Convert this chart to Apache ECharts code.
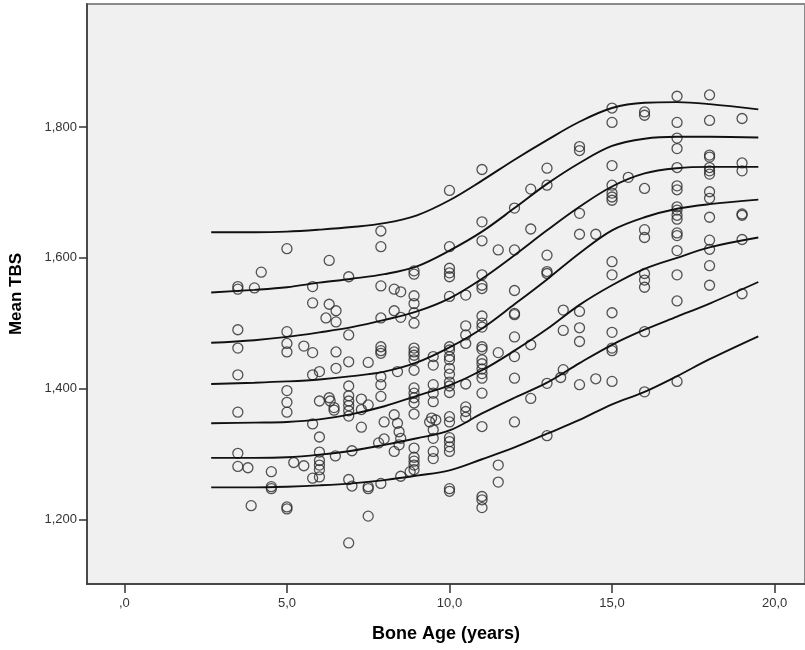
<!DOCTYPE html>
<html>
<head>
<meta charset="utf-8">
<title>Mean TBS by Bone Age</title>
<script src="https://cdn.jsdelivr.net/npm/echarts@6/dist/echarts.min.js"></script>
<style>
  html, body { margin: 0; padding: 0; background: #ffffff; }
  #chart { width: 805px; height: 650px; }
</style>
</head>
<body>
<div id="chart"></div>
<script>
// Ages (years) where the reference curves are sampled
const curveAges = [2.67, 4, 5, 6, 7, 8, 9, 10, 11, 12, 13, 14, 15, 16, 17, 18, 19.5];

// Reference curves, top to bottom
const curve1 = [1.639, 1.639, 1.640, 1.643, 1.647, 1.653, 1.665, 1.688, 1.718, 1.750, 1.780, 1.808, 1.829, 1.837, 1.838, 1.835, 1.827];
const curve2 = [1.547, 1.551, 1.555, 1.562, 1.568, 1.575, 1.587, 1.611, 1.640, 1.676, 1.713, 1.745, 1.771, 1.782, 1.785, 1.785, 1.784];
const curve3 = [1.470, 1.474, 1.479, 1.486, 1.494, 1.505, 1.518, 1.538, 1.568, 1.604, 1.642, 1.678, 1.709, 1.729, 1.737, 1.739, 1.739];
const curve4 = [1.407, 1.409, 1.411, 1.414, 1.419, 1.426, 1.440, 1.463, 1.492, 1.529, 1.567, 1.607, 1.642, 1.662, 1.675, 1.682, 1.689];
const curve5 = [1.347, 1.348, 1.349, 1.353, 1.361, 1.373, 1.389, 1.405, 1.428, 1.458, 1.491, 1.528, 1.558, 1.583, 1.600, 1.616, 1.631];
const curve6 = [1.294, 1.294, 1.295, 1.299, 1.305, 1.314, 1.324, 1.336, 1.362, 1.386, 1.409, 1.439, 1.467, 1.490, 1.510, 1.530, 1.563];
const curve7 = [1.249, 1.249, 1.250, 1.252, 1.255, 1.260, 1.267, 1.275, 1.292, 1.310, 1.331, 1.352, 1.376, 1.395, 1.419, 1.445, 1.480];

// Individual subjects: bone age and mean TBS, grouped by age
const subjectAges = [
  3.49, 3.49, 3.49, 3.49, 3.49, 3.49, 3.49, 3.49,
  3.80, 3.90, 4.00, 4.21, 4.52, 4.52, 4.52,
  5.00, 5.00, 5.00, 5.00, 5.00, 5.00, 5.00, 5.00, 5.00,
  5.21, 5.52, 5.52,
  5.79, 5.79, 5.79, 5.79, 5.79, 5.79,
  6.00, 6.00, 6.00, 6.00, 6.00, 6.00, 6.00, 6.00,
  6.20, 6.30, 6.30, 6.30, 6.33, 6.45, 6.45,
  6.51, 6.51, 6.51, 6.51, 6.49,
  6.90, 6.90, 6.90, 6.90, 6.90, 6.90, 6.90, 6.90, 6.90, 6.90, 6.90,
  7.00, 7.00,
  7.29, 7.29, 7.29,
  7.50, 7.50, 7.50, 7.50, 7.50,
  7.82,
  7.89, 7.89, 7.89, 7.89, 7.89, 7.89, 7.89, 7.89, 7.89, 7.89, 7.89,
  7.99, 7.99,
  8.30, 8.30, 8.30, 8.30,
  8.40, 8.40, 8.45, 8.45,
  8.50, 8.50, 8.50, 8.50,
  8.79,
  8.91, 8.91, 8.91, 8.91, 8.91, 8.91, 8.91, 8.91, 8.91, 8.91, 8.91,
  8.91, 8.91, 8.91, 8.91, 8.91, 8.91, 8.91, 8.91, 8.91, 8.91,
  9.39, 9.45, 9.58,
  9.50, 9.50, 9.50, 9.50, 9.50, 9.50, 9.50, 9.50, 9.50,
  10.0, 10.0, 10.0, 10.0, 10.0, 10.0, 10.0, 10.0, 10.0, 10.0, 10.0, 10.0,
  10.0, 10.0, 10.0, 10.0, 10.0, 10.0, 10.0, 10.0, 10.0, 10.0, 10.0,
  10.5, 10.5, 10.5, 10.5, 10.5, 10.5, 10.5, 10.5,
  11.0, 11.0, 11.0, 11.0, 11.0, 11.0, 11.0, 11.0, 11.0, 11.0, 11.0,
  11.0, 11.0, 11.0, 11.0, 11.0, 11.0, 11.0, 11.0, 11.0, 11.0,
  11.5, 11.5, 11.5, 11.5,
  12.0, 12.0, 12.0, 12.0, 12.0, 12.0, 12.0, 12.0, 12.0,
  12.5, 12.5, 12.5, 12.5,
  13.0, 13.0, 13.0, 13.0, 13.0, 13.0, 13.0,
  13.5, 13.5, 13.5, 13.42,
  14.0, 14.0, 14.0, 14.0, 14.0, 14.0, 14.0, 14.0,
  14.5, 14.5,
  15.0, 15.0, 15.0, 15.0, 15.0, 15.0, 15.0, 15.0, 15.0, 15.0, 15.0, 15.0, 15.0, 15.0,
  15.5,
  16.0, 16.0, 16.0, 16.0, 16.0, 16.0, 16.0, 16.0, 16.0, 16.0,
  17.0, 17.0, 17.0, 17.0, 17.0, 17.0, 17.0, 17.0, 17.0, 17.0, 17.0, 17.0, 17.0, 17.0, 17.0, 17.0, 17.0,
  18.0, 18.0, 18.0, 18.0, 18.0, 18.0, 18.0, 18.0, 18.0, 18.0, 18.0, 18.0, 18.0, 18.0,
  19.0, 19.0, 19.0, 19.0, 19.0, 19.0, 19.0
];
const subjectTbs = [
  1.556, 1.552, 1.490, 1.462, 1.421, 1.364, 1.301, 1.281,
  1.279, 1.221, 1.554, 1.578, 1.273, 1.250, 1.247,
  1.614, 1.487, 1.469, 1.456, 1.397, 1.379, 1.364, 1.219, 1.216,
  1.287, 1.465, 1.282,
  1.556, 1.531, 1.455, 1.421, 1.346, 1.263,
  1.426, 1.381, 1.326, 1.303, 1.290, 1.283, 1.276, 1.265,
  1.508, 1.596, 1.529, 1.386, 1.381, 1.371, 1.367,
  1.519, 1.502, 1.456, 1.431, 1.297,
  1.571, 1.482, 1.441, 1.404, 1.389, 1.381, 1.374, 1.366, 1.358, 1.261, 1.164,
  1.305, 1.251,
  1.384, 1.368, 1.341,
  1.440, 1.375, 1.250, 1.247, 1.205,
  1.317,
  1.641, 1.617, 1.557, 1.508, 1.464, 1.458, 1.454, 1.418, 1.406, 1.388, 1.255,
  1.349, 1.323,
  1.552, 1.519, 1.360, 1.304,
  1.426, 1.347, 1.334, 1.314,
  1.548, 1.509, 1.324, 1.266,
  1.273,
  1.580, 1.575, 1.542, 1.530, 1.516, 1.500, 1.462, 1.456, 1.451, 1.444, 1.428,
  1.401, 1.393, 1.386, 1.378, 1.361, 1.309, 1.295, 1.289, 1.283, 1.276,
  1.349, 1.355, 1.352,
  1.449, 1.436, 1.406, 1.393, 1.380, 1.337, 1.324, 1.304, 1.293,
  1.703, 1.617, 1.584, 1.577, 1.571, 1.541, 1.464, 1.459, 1.449, 1.444, 1.431, 1.422,
  1.410, 1.404, 1.394, 1.357, 1.349, 1.325, 1.319, 1.311, 1.304, 1.247, 1.243,
  1.543, 1.496, 1.482, 1.469, 1.407, 1.372, 1.365, 1.356,
  1.735, 1.655, 1.626, 1.574, 1.558, 1.553, 1.511, 1.500, 1.494, 1.464, 1.460,
  1.444, 1.438, 1.430, 1.423, 1.416, 1.393, 1.342, 1.235, 1.230, 1.218,
  1.612, 1.455, 1.283, 1.257,
  1.676, 1.612, 1.550, 1.515, 1.513, 1.479, 1.449, 1.416, 1.349,
  1.705, 1.644, 1.467, 1.385,
  1.737, 1.711, 1.604, 1.579, 1.576, 1.408, 1.328,
  1.520, 1.489, 1.429, 1.417,
  1.770, 1.764, 1.668, 1.636, 1.518, 1.493, 1.472, 1.406,
  1.636, 1.415,
  1.829, 1.807, 1.741, 1.711, 1.699, 1.693, 1.688, 1.594, 1.574, 1.516, 1.486, 1.462, 1.458, 1.411,
  1.723,
  1.823, 1.818, 1.706, 1.643, 1.631, 1.576, 1.566, 1.555, 1.487, 1.395,
  1.847, 1.807, 1.783, 1.767, 1.738, 1.710, 1.704, 1.678, 1.673, 1.665, 1.659, 1.638, 1.634, 1.611, 1.574, 1.534, 1.411,
  1.849, 1.810, 1.757, 1.754, 1.738, 1.733, 1.728, 1.701, 1.691, 1.662, 1.627, 1.613, 1.588, 1.558,
  1.813, 1.745, 1.733, 1.667, 1.665, 1.628, 1.545
];

// Tick positions
const ageTicks = [0, 5, 10, 15, 20];
const tbsTicks = [1.2, 1.4, 1.6, 1.8];

const FONT = '"Liberation Sans", Arial, sans-serif';

const chart = echarts.init(document.getElementById('chart'), null, { renderer: 'canvas' });

// Decimal comma, no leading zero for values below one (",0")
function ageLabel(v) {
  let s = Number(v).toFixed(1).replace('.', ',');
  if (s.indexOf('0,') === 0) s = s.slice(1);
  return s;
}
function tbsLabel(v) {
  return Number(v).toFixed(3).replace('.', ',');
}

const points = subjectAges.map((a, i) => [a, subjectTbs[i]]);
const curves = [curve1, curve2, curve3, curve4, curve5, curve6, curve7];

const curveSeries = curves.map(c => ({
  type: 'line',
  data: curveAges.map((a, i) => [a, c[i]]),
  smooth: 0.35,
  showSymbol: false,
  silent: true,
  z: 3,
  lineStyle: { color: '#111111', width: 1.9 }
}));

chart.setOption({
  animation: false,
  backgroundColor: '#ffffff',
  grid: {
    left: 87, top: 4, width: 720, height: 580,
    show: true,
    backgroundColor: '#f0f0f0',
    borderColor: '#8a8a8a',
    borderWidth: 2
  },
  xAxis: {
    type: 'value',
    min: -1.150,
    max: 20.936,
    name: 'Bone Age (years)',
    nameLocation: 'middle',
    nameGap: 41,
    nameTextStyle: { fontFamily: FONT, fontWeight: 'bold', fontSize: 18, color: '#000' },
    axisLine: { show: true, onZero: false, lineStyle: { color: '#333', width: 1.5 } },
    axisTick: { show: true, inside: false, length: 9, customValues: ageTicks, lineStyle: { color: '#333', width: 1.5 } },
    axisLabel: { customValues: ageTicks, formatter: ageLabel, margin: 13, fontFamily: FONT, fontSize: 13, color: '#333' },
    splitLine: { show: false }
  },
  yAxis: {
    type: 'value',
    min: 1.10122,
    max: 1.98807,
    name: 'Mean TBS',
    nameLocation: 'middle',
    nameRotate: 90,
    nameGap: 62,
    nameTextStyle: { fontFamily: FONT, fontWeight: 'bold', fontSize: 17, color: '#000' },
    axisLine: { show: true, onZero: false, lineStyle: { color: '#333', width: 1.5 } },
    axisTick: { show: true, inside: false, length: 8, customValues: tbsTicks, lineStyle: { color: '#333', width: 1.5 } },
    axisLabel: { customValues: tbsTicks, formatter: tbsLabel, margin: 10, fontFamily: FONT, fontSize: 13, color: '#333' },
    splitLine: { show: false }
  },
  series: [
    {
      type: 'scatter',
      data: points,
      symbol: 'circle',
      symbolSize: 10,
      silent: true,
      z: 2,
      itemStyle: { color: 'rgba(0,0,0,0)', borderColor: '#2a2a2a', borderWidth: 1.3 }
    }
  ].concat(curveSeries)
});
</script>
</body>
</html>
